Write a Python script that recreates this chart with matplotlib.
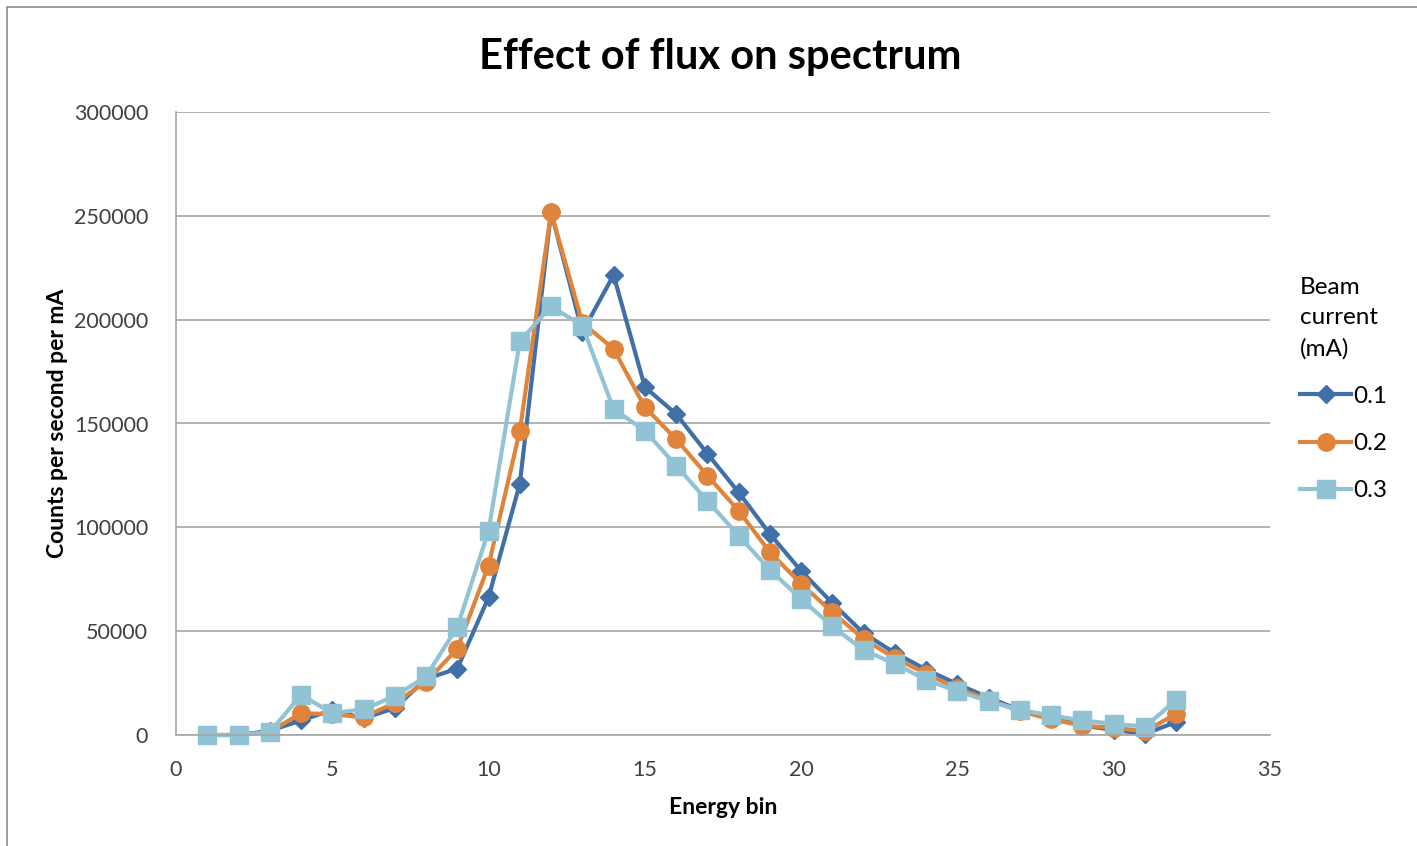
import matplotlib
matplotlib.use("Agg")
import matplotlib.pyplot as plt
from matplotlib.patches import Rectangle

plt.rcParams['font.family'] = ['Lato', 'DejaVu Sans']

energy_bin = list(range(1, 33))
series_labels = ["0.1", "0.2", "0.3"]
s01 = [0, 0, 2000, 7000, 12000, 8000, 13000, 27000, 32000, 66300, 121000, 252000,
       194000, 221500, 167500, 154600, 135500, 116800, 96800, 79000, 63500, 49000,
       39500, 31500, 24500, 18000, 12000, 8500, 4500, 2500, 500, 6300]
s02 = [0, 0, 1500, 10500, 10000, 8500, 15500, 25500, 41600, 81600, 146500, 251800,
       198500, 185900, 157800, 142500, 124900, 108000, 88000, 72800, 59100, 46300,
       37000, 29500, 22500, 17000, 11500, 7500, 4500, 3500, 1800, 10200]
s03 = [0, 0, 1300, 19300, 10500, 12400, 18700, 28200, 52000, 98400, 189500, 206500,
       197000, 157000, 146500, 129700, 112800, 96000, 79500, 65500, 52300, 40800,
       34300, 26600, 21000, 16300, 12100, 9400, 7000, 5400, 4000, 16800]
x_ticks = [0, 5, 10, 15, 20, 25, 30, 35]
y_ticks = [0, 50000, 100000, 150000, 200000, 250000, 300000]

colors = ["#4170A8", "#E0843C", "#92C3D5"]
markers = ["D", "o", "s"]
msizes = [9, 12.5, 13]

fig = plt.figure(figsize=(14.17, 8.46), dpi=100)
fig.patches.append(Rectangle((7/1417, -0.1), 1.2, 1 - 7/846 + 0.1, transform=fig.transFigure,
                             fill=False, edgecolor="#8C8C8C", linewidth=1.2))
ax = fig.add_axes([176/1417, 1 - 735/846, (1270 - 176)/1417, (735 - 112)/846])

for vals, c, m, ms, lab in zip([s01, s02, s03], colors, markers, msizes, series_labels):
    ax.plot(energy_bin, vals, color=c, marker=m, markersize=ms, linewidth=3,
            label=lab, clip_on=False)

ax.set_xlim(0, 35)
ax.set_ylim(0, 300000)
ax.set_xticks(x_ticks)
ax.set_yticks(y_ticks)
ax.set_xticklabels([str(v) for v in x_ticks])
ax.set_yticklabels([str(v) for v in y_ticks])
ax.tick_params(length=0, labelsize=15.5, colors="#404040")
ax.tick_params(axis='y', pad=20)
ax.tick_params(axis='x', pad=18)
ax.grid(axis='y', color="#A6A6A6", linewidth=1.2)
ax.set_axisbelow(True)
for s in ["top", "right"]:
    ax.spines[s].set_visible(False)
for s in ["left", "bottom"]:
    ax.spines[s].set_color("#A6A6A6")
    ax.spines[s].set_linewidth(1.2)

ax.set_xlabel("Energy bin", fontsize=16.5, fontweight="bold", labelpad=12)
ax.set_ylabel("Counts per second per mA", fontsize=16.5, fontweight="bold", labelpad=4)
fig.text(720/1417, 1 - 57/846, "Effect of flux on spectrum", fontsize=30,
         fontweight="bold", ha="center", va="center")

leg = ax.legend(title="Beam\ncurrent\n(mA)", loc="upper left",
                bbox_to_anchor=(1283/1417, 1 - 260/846), bbox_transform=fig.transFigure,
                frameon=False, fontsize=17.5, title_fontsize=17.5, handlelength=2.1,
                handletextpad=0.1, labelspacing=1.08, borderpad=0.2)
leg._legend_box.align = "left"
leg.get_title().set_linespacing(1.55)

fig.savefig("out.png", dpi=100)
